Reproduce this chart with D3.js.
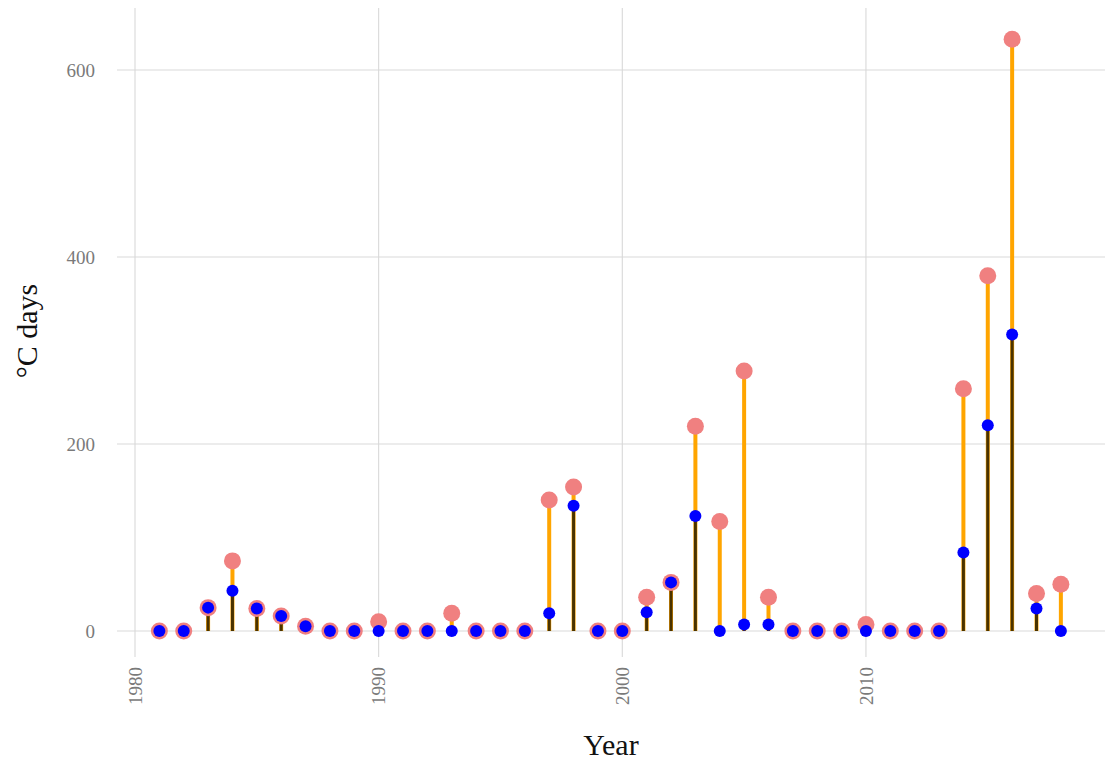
<!DOCTYPE html>
<html>
<head>
<script src="https://d3js.org/d3.v7.min.js"></script>
<style>
  body { margin: 0; background: #fff; }
</style>
</head>
<body>
<svg id="svg"></svg>
<script>
    const years = d3.range(1981, 2019);
    // total degree days (red dots, orange stems)
    const totalDays = [0, 0, 25, 75, 24, 16, 5, 0, 0, 10,
                       0, 0, 19, 0, 0, 0, 140, 154, 0, 0,
                       36, 52, 219, 117, 278, 36, 0, 0, 0, 7,
                       0, 0, 0, 259, 380, 633, 40, 50];
    // part in blue dots, dark stems
    const blueDays = [0, 0, 25, 43, 24, 16, 5, 0, 0, 0,
                      0, 0, 0, 0, 0, 0, 19, 134, 0, 0,
                      20, 52, 123, 0, 7, 7, 0, 0, 0, 0,
                      0, 0, 0, 84, 220, 317, 24, 0];
    const xTicks = [1980, 1990, 2000, 2010];
    const yTicks = [0, 200, 400, 600];

    const data = years.map((y, i) => ({ year: y, total: totalDays[i], blue: blueDays[i] }));

    const width = 1114, height = 761;
    const svg = d3.select("#svg").attr("width", width).attr("height", height);

    const panelLeft = 117, panelRight = 1105, panelTop = 8, panelBottom = 657;

    const x = d3.scaleLinear().domain([1980, 2020.55]).range([135, 1123]);
    const y = d3.scaleLinear().domain([0, 600]).range([631, 70]);

    const grid = svg.append("g");
    grid.selectAll(".hg").data(yTicks).enter().append("line")
        .attr("x1", panelLeft).attr("x2", panelRight)
        .attr("y1", d => y(d)).attr("y2", d => y(d))
        .attr("stroke", "#d9d9d9").attr("stroke-width", 1.1);
    grid.selectAll(".vg").data(xTicks).enter().append("line")
        .attr("x1", d => x(d)).attr("x2", d => x(d))
        .attr("y1", panelTop).attr("y2", panelBottom)
        .attr("stroke", "#d9d9d9").attr("stroke-width", 1.1);

    // y tick labels
    svg.selectAll(".yl").data(yTicks).enter().append("text")
        .attr("x", 95).attr("y", d => y(d)).attr("dy", "0.35em")
        .attr("text-anchor", "end")
        .attr("font-family", "Liberation Serif, serif")
        .attr("font-size", 19).attr("fill", "#7a7a7a")
        .text(d => d);

    // x tick labels, rotated
    svg.selectAll(".xl").data(xTicks).enter().append("text")
        .attr("transform", d => `translate(${x(d)}, 667) rotate(-90)`)
        .attr("dy", "0.35em")
        .attr("text-anchor", "end")
        .attr("font-family", "Liberation Serif, serif")
        .attr("font-size", 19).attr("fill", "#7a7a7a")
        .text(d => d);

    // stems
    svg.selectAll(".stem").data(data).enter().append("line")
        .attr("x1", d => x(d.year)).attr("x2", d => x(d.year))
        .attr("y1", y(0)).attr("y2", d => y(d.total))
        .attr("stroke", "#ffa500").attr("stroke-width", 4);
    svg.selectAll(".stem2").data(data).enter().append("line")
        .attr("x1", d => x(d.year)).attr("x2", d => x(d.year))
        .attr("y1", y(0)).attr("y2", d => y(d.blue))
        .attr("stroke", "#4a3300").attr("stroke-width", 3);

    // dots
    svg.selectAll(".rd").data(data).enter().append("circle")
        .attr("cx", d => x(d.year)).attr("cy", d => y(d.total))
        .attr("r", 8.5).attr("fill", "#f08080");
    svg.selectAll(".bd").data(data).enter().append("circle")
        .attr("cx", d => x(d.year)).attr("cy", d => y(d.blue))
        .attr("r", 6).attr("fill", "#0000ff");

    // axis titles
    svg.append("text")
        .attr("x", 611).attr("y", 755)
        .attr("text-anchor", "middle")
        .attr("font-family", "Liberation Serif, serif")
        .attr("font-size", 30).attr("fill", "#111")
        .text("Year");
    svg.append("text")
        .attr("transform", "translate(37, 331) rotate(-90)")
        .attr("text-anchor", "middle")
        .attr("font-family", "Liberation Serif, serif")
        .attr("font-size", 30).attr("fill", "#111")
        .text("°C days");
</script>
</body>
</html>
